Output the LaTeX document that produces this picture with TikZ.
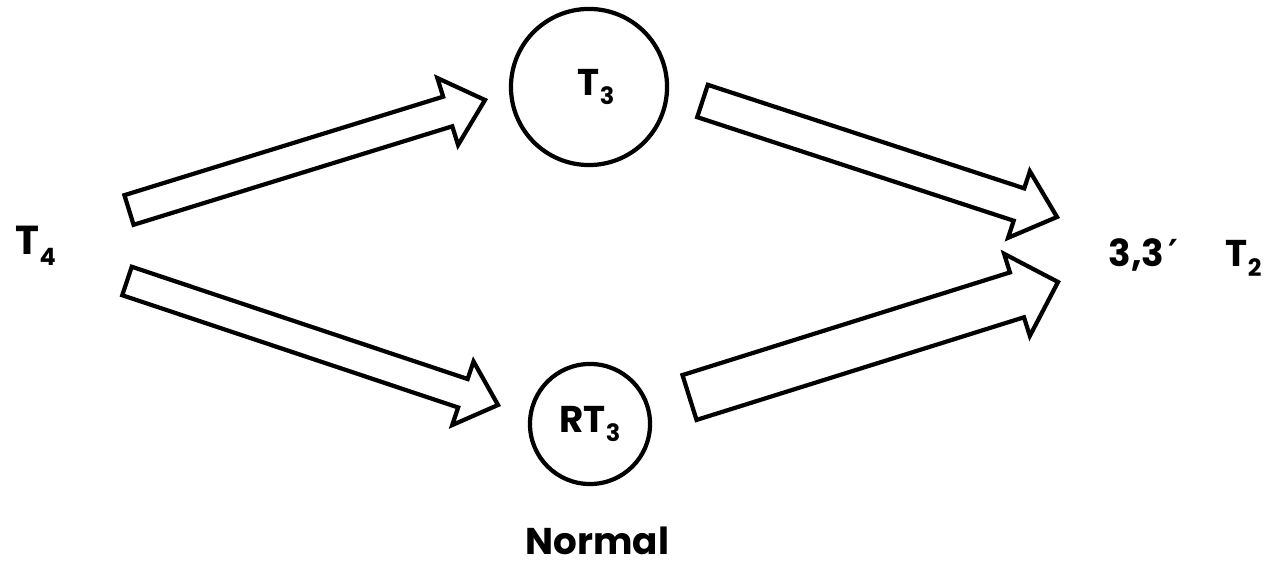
\documentclass[tikz,border=0pt]{standalone}
\usepackage{fontspec}
\setmainfont{Poppins}
\newfontfamily\dejavu{DejaVu Sans}
\usetikzlibrary{calc}
\newcommand\sub[1]{\raisebox{-0.45ex}{\fontsize{6.8}{6.8}\selectfont #1}}
% tail, tip, half shaft width, half head width, head length
\newcommand\blockarrow[5]{%
  \coordinate (#1m) at ($(#2)!#5!(#1)$);
  \draw[blockarr] ($(#1)!#3!90:(#2)$) -- ($(#1m)!#3!90:(#2)$) -- ($(#1m)!#4!90:(#2)$) -- (#2)
    -- ($(#1m)!#4!-90:(#2)$) -- ($(#1m)!#3!-90:(#2)$) -- ($(#1)!#3!-90:(#2)$) -- cycle;}
\begin{document}
\begin{tikzpicture}[x=0.01cm, y=-0.01cm,
  circ/.style={circle, draw, line width=1.2pt, inner sep=0pt},
  blockarr/.style={draw, line width=1.2pt, line join=miter},
  lbl/.style={font=\bfseries\fontsize{10.6}{12}\selectfont, inner sep=0pt}]
\useasboundingbox (0,0) rectangle (1268,568);
% nodes
\node[circ, minimum size=1.56cm, lbl] (t3) at (589,87) {\hspace*{0.14cm}T\sub{3}};
\node[circ, minimum size=1.20cm, lbl] (rt3) at (590,424) {RT\sub{3}};
\node[lbl, anchor=base west] (t4) at (15,255) {\fontsize{11.5}{12}\selectfont T\sub{4}};
\node[lbl, anchor=base west] (dit) at (1108,267) {3,3\hspace{0.04cm}{\dejavu ′}};
\node[lbl, anchor=base west] (t2) at (1225,267) {T\sub{2}};
\node[lbl, anchor=base west] (normal) at (525,555) {Normal};
% arrow ends
\coordinate (a1t) at (129,210);   \coordinate (a1h) at (485,100);
\coordinate (a2t) at (702.5,101); \coordinate (a2h) at (1057,217);
\coordinate (a3t) at (127,281);   \coordinate (a3h) at (498,405);
\coordinate (a4t) at (689.5,397.5); \coordinate (a4h) at (1058,282);
\blockarrow{a1t}{a1h}{0.155cm}{0.35cm}{0.39cm}
\blockarrow{a2t}{a2h}{0.17cm}{0.35cm}{0.40cm}
\blockarrow{a3t}{a3h}{0.15cm}{0.335cm}{0.37cm}
\blockarrow{a4t}{a4h}{0.235cm}{0.43cm}{0.43cm}
\end{tikzpicture}
\end{document}
